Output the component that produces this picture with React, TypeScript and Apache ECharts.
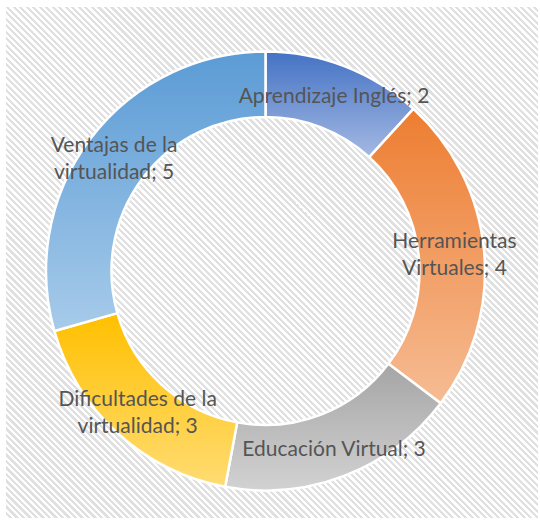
import React, { useEffect, useRef } from "react";
import * as echarts from "echarts";

const categories = [
  "Aprendizaje Inglés",
  "Herramientas Virtuales",
  "Educación Virtual",
  "Dificultades de la virtualidad",
  "Ventajas de la virtualidad",
];
const labelNames = [
  "Aprendizaje Inglés",
  "Herramientas\nVirtuales",
  "Educación Virtual",
  "Dificultades de la\nvirtualidad",
  "Ventajas de la\nvirtualidad",
];
const values = [2, 4, 3, 3, 5];
const topColors = ["#4472C4", "#ED7D31", "#A5A5A5", "#FFC000", "#5B9BD5"];
const bottomColors = ["#A4B9E3", "#F6BC94", "#D2D2D2", "#FFDC73", "#A7CBEA"];

export default function App() {
  const ref = useRef<HTMLDivElement>(null);
  useEffect(() => {
    if (!ref.current) return;
    const chart = echarts.init(ref.current, null, { renderer: "svg" });
    chart.setOption({
      animation: false,
      backgroundColor: "transparent",
      series: [
        {
          type: "pie",
          center: [265.5, 271],
          radius: [154, 219.5],
          startAngle: 90,
          clockwise: true,
          avoidLabelOverlap: false,
          silent: true,
          itemStyle: { borderColor: "#ffffff", borderWidth: 2.5 },
          label: {
            show: true,
            position: "inside",
            color: "#555555",
            fontFamily: "Lato",
            fontSize: 21,
            lineHeight: 27,
            align: "center",
            formatter: (p: any) => `${labelNames[p.dataIndex]}; ${p.value}`,
          },
          labelLine: { show: false },
          emphasis: { disabled: true },
          data: categories.map((name, i) => ({
            name,
            value: values[i],
            itemStyle: {
              color: new echarts.graphic.LinearGradient(0, 0, 0, 1, [
                { offset: 0, color: topColors[i] },
                { offset: 1, color: bottomColors[i] },
              ]),
            },
          })),
        },
      ],
    });
    return () => chart.dispose();
  }, []);

  return (
    <div
      style={{
        position: "absolute",
        left: 0,
        top: 0,
        width: 540,
        height: 525,
        background: "#ffffff",
        overflow: "hidden",
      }}
    >
      <div
        style={{
          position: "absolute",
          left: 6,
          top: 7,
          width: 532,
          height: 511,
          background:
            "repeating-linear-gradient(45deg, #ffffff 0px, #ffffff 2.3px, #e0e0e0 2.3px, #e0e0e0 4.6px)",
        }}
      />
      <div
        ref={ref}
        style={{ position: "absolute", left: 0, top: 0, width: 540, height: 525 }}
      />
    </div>
  );
}
